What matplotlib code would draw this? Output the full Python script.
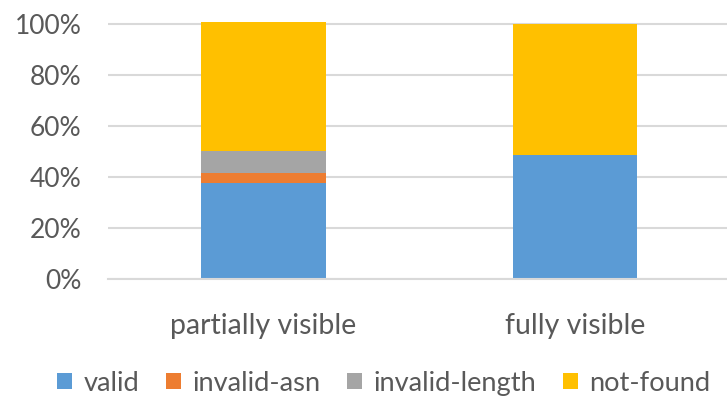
import matplotlib
matplotlib.use("Agg")
import matplotlib.pyplot as plt
import numpy as np

categories = ["partially visible", "fully visible"]
series_names = ["valid", "invalid-asn", "invalid-length", "not-found"]
valid = [37.8, 48.7]
invalid_asn = [3.9, 0.0]
invalid_length = [8.6, 0.0]
not_found = [50.6, 51.3]
colors = ["#5B9BD5", "#ED7D31", "#A5A5A5", "#FFC000"]
yticks = [0, 20, 40, 60, 80, 100]

plt.rcParams['font.family'] = ['Lato', 'DejaVu Sans']
text_color = "#595959"

fig = plt.figure(figsize=(7.27, 3.97), dpi=100)
ax = fig.add_axes([108 / 727, 1 - 279.3 / 397, 1 - 108 / 727, (279.3 - 21.45) / 397])

# stacked bars, one segment per status
x = np.arange(len(categories))
bottom = np.zeros(len(categories))
for name, vals, c in zip(series_names, [valid, invalid_asn, invalid_length, not_found], colors):
    ax.bar(x, vals, width=0.4, bottom=bottom, color=c, label=name, zorder=2)
    bottom += np.array(vals)

ax.set_xlim(-0.499, 1.488)
ax.set_ylim(0, 101)
ax.set_yticks(yticks)
ax.set_yticklabels([f"{t}%" for t in yticks])
ax.set_xticks(x)
ax.set_xticklabels(categories)
ax.yaxis.grid(True, color="#D9D9D9", linewidth=1.5, zorder=0)
ax.set_axisbelow(True)
for s in ["top", "right", "left"]:
    ax.spines[s].set_visible(False)
ax.spines["bottom"].set_color("#D9D9D9")
ax.spines["bottom"].set_linewidth(1.5)
ax.tick_params(axis="both", length=0, labelsize=19, colors=text_color)
ax.tick_params(axis="y", pad=19)
ax.tick_params(axis="x", pad=24, labelsize=20.5)

leg = fig.legend(loc="lower center", bbox_to_anchor=(0.528, -0.058), ncol=4, frameon=False,
                 fontsize=19.6, handlelength=0.55, handleheight=0.55, handletextpad=0.4,
                 columnspacing=1.0)
for t in leg.get_texts():
    t.set_color(text_color)

fig.savefig("out.png", dpi=100)
